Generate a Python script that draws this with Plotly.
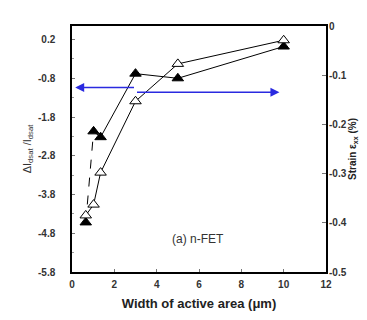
import plotly.graph_objects as go

# Data
width_um = [0.65, 1.02, 1.35, 3.0, 5.0, 10.0]
delta_idsat = [-4.52, -2.17, -2.32, -0.68, -0.80, 0.02]      # filled triangles, left axis
strain_xx = [-0.385, -0.363, -0.298, -0.153, -0.077, -0.029]  # open triangles, right axis

x_ticks = [0, 2, 4, 6, 8, 10, 12]
left_ticks = [0.2, -0.8, -1.8, -2.8, -3.8, -4.8, -5.8]
left_tick_text = ["0.2", "-0.8", "-1.8", "-2.8", "-3.8", "-4.8", "-5.8"]
right_ticks = [0, -0.1, -0.2, -0.3, -0.4, -0.5]
right_tick_text = ["0", "-0.1", "-0.2", "-0.3", "-0.4", "-0.5"]

fig = go.Figure()

# dashed first segment of filled series
fig.add_trace(go.Scatter(x=width_um[:2], y=delta_idsat[:2], mode="lines",
                         line=dict(color="black", width=1, dash="dash"),
                         showlegend=False, yaxis="y"))
fig.add_trace(go.Scatter(x=width_um[1:], y=delta_idsat[1:], mode="lines",
                         line=dict(color="black", width=1),
                         showlegend=False, yaxis="y"))
fig.add_trace(go.Scatter(x=width_um, y=delta_idsat, mode="markers",
                         marker=dict(symbol="triangle-up", size=10, color="black",
                                     line=dict(color="black", width=1)),
                         showlegend=False, yaxis="y"))
fig.add_trace(go.Scatter(x=width_um, y=strain_xx, mode="lines+markers",
                         line=dict(color="black", width=1),
                         marker=dict(symbol="triangle-up", size=10, color="white",
                                     line=dict(color="black", width=1)),
                         showlegend=False, yaxis="y2"))

tickfont = dict(family="Liberation Sans, Arial, sans-serif", size=10,
                color="#333333", weight="bold")

fig.update_layout(
    width=367, height=320,
    margin=dict(l=64, r=49, t=12, b=56),
    paper_bgcolor="white", plot_bgcolor="white",
    font=dict(family="Liberation Sans, Arial, sans-serif", color="#222222"),
    xaxis=dict(range=[0, 12], tickvals=x_ticks, ticks="inside", ticklen=3,
               tickcolor="#777", showgrid=False, zeroline=False,
               showline=True, linecolor="black", linewidth=1.5, mirror=True,
               tickfont=tickfont, ticklabelstandoff=2,
               title=dict(text="<b>Width of active area (μm)</b>",
                          font=dict(size=13, color="#222"), standoff=10)),
    yaxis=dict(range=[-5.8, 0.55], tickvals=left_ticks, ticktext=left_tick_text,
               ticks="inside", ticklen=3, tickcolor="#777",
               minor=dict(dtick=0.5, tick0=0.2, ticks="inside", ticklen=2, tickcolor="#999"),
               showgrid=False, zeroline=False,
               showline=True, linecolor="black", linewidth=1.5, mirror=True,
               tickfont=tickfont, ticklabelstandoff=13,
               title=dict(text="ΔI<sub>dsat</sub> /I<sub>dsat</sub>",
                          font=dict(size=11, color="#333"), standoff=4)),
    yaxis2=dict(range=[-0.5, 0], overlaying="y", side="right",
                tickvals=right_ticks, ticktext=right_tick_text,
                ticks="inside", ticklen=4, tickcolor="#777",
                showgrid=False, zeroline=False, showline=False,
                tickfont=tickfont, ticklabelstandoff=2,
                title=dict(text="<b>Strain ε<sub>xx</sub> (%)</b>",
                           font=dict(size=10, color="#222"), standoff=1)),
)

# blue arrows
fig.add_annotation(x=0.15, y=-1.04, ax=3.0, ay=-1.04, xref="x", yref="y",
                   axref="x", ayref="y", text="", showarrow=True,
                   arrowhead=2, arrowsize=1.2, arrowwidth=1.5, arrowcolor="#2a2ae0")
fig.add_annotation(x=9.8, y=-1.16, ax=3.0, ay=-1.16, xref="x", yref="y",
                   axref="x", ayref="y", text="", showarrow=True,
                   arrowhead=2, arrowsize=1.2, arrowwidth=1.5, arrowcolor="#2a2ae0")

fig.add_annotation(x=5.95, y=-4.95, xref="x", yref="y", text="(a) n-FET",
                   showarrow=False, font=dict(size=12, color="#333"))

fig.write_html("out.html")
